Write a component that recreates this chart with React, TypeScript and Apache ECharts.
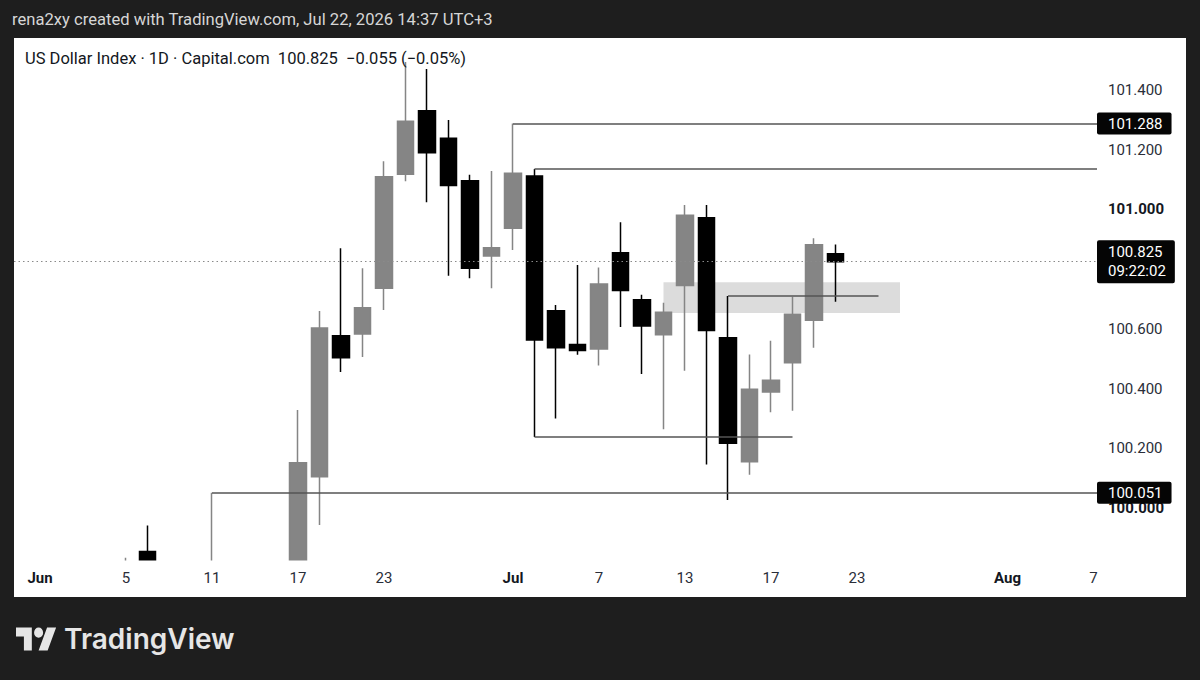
import React, { useEffect, useRef } from "react";
import * as echarts from "echarts";

// ---- data ----
const candleDates = [
  "2026-06-05", "2026-06-08", "2026-06-11", "2026-06-17", "2026-06-18", "2026-06-19",
  "2026-06-22", "2026-06-23", "2026-06-24", "2026-06-25", "2026-06-26", "2026-06-29",
  "2026-06-30", "2026-07-01", "2026-07-02", "2026-07-03", "2026-07-06", "2026-07-07",
  "2026-07-08", "2026-07-09", "2026-07-10", "2026-07-13", "2026-07-14", "2026-07-15",
  "2026-07-16", "2026-07-17", "2026-07-20", "2026-07-21", "2026-07-22",
];
const opens = [
  99.74, 99.854, 99.76, 99.73, 100.105, 100.577,
  100.583, 100.736, 101.118, 101.331, 101.239, 101.096,
  100.844, 100.937, 101.112, 100.661, 100.548, 100.533,
  100.855, 100.698, 100.58, 100.745, 100.972, 100.57,
  100.155, 100.389, 100.487, 100.629, 100.852,
];
const closes = [
  99.8, 99.77, 99.81, 100.152, 100.603, 100.503,
  100.671, 101.11, 101.296, 101.19, 101.08, 100.803,
  100.872, 101.121, 100.563, 100.537, 100.528, 100.75,
  100.729, 100.61, 100.656, 100.981, 100.595, 100.217,
  100.398, 100.428, 100.649, 100.882, 100.825,
];
const lows = [
  99.72, 99.73, 99.72, 99.71, 99.943, 100.456,
  100.506, 100.663, 101.095, 101.024, 100.778, 100.77,
  100.736, 100.864, 100.238, 100.3, 100.513, 100.477,
  100.606, 100.449, 100.264, 100.46, 100.146, 100.027,
  100.111, 100.321, 100.326, 100.537, 100.691,
];
const highs = [
  99.833, 99.941, 100.051, 100.328, 100.66, 100.87,
  100.803, 101.162, 101.494, 101.471, 101.3, 101.116,
  101.129, 101.288, 101.136, 100.68, 100.814, 100.806,
  100.957, 100.714, 100.688, 101.015, 101.015, 100.71,
  100.514, 100.56, 100.708, 100.904, 100.883,
];

// drawn horizontal rays / segments (end null = to price scale)
const rayStarts = ["2026-07-01", "2026-07-02", "2026-07-02", "2026-07-15", "2026-06-11"];
const rayEnds = [null, null, "2026-07-20", "2026-07-24", null];
const rayPrices = [101.288, 101.136, 100.238, 100.71, 100.051];
const rayLabels = ["101.288", "", "", "", "100.051"];

const lastPrice = 100.825;
const lastPriceLabel = "100.825\n09:22:02";

const zoneStart = "2026-07-10";
const zoneEnd = "2026-07-27";
const zoneTop = 100.756;
const zoneBottom = 100.653;

const xTickDates = [
  "2026-06-01", "2026-06-05", "2026-06-11", "2026-06-17", "2026-06-23", "2026-07-01",
  "2026-07-07", "2026-07-13", "2026-07-17", "2026-07-23", "2026-08-03", "2026-08-07",
];
const xTickLabels = ["Jun", "5", "11", "17", "23", "Jul", "7", "13", "17", "23", "Aug", "7"];
const yTickValues = [100.0, 100.2, 100.4, 100.6, 101.0, 101.2, 101.4];

const headerText = "rena2xy created with TradingView.com, Jul 22, 2026 14:37 UTC+3";
const legendText = "US Dollar Index · 1D · Capital.com  100.825  \u22120.055 (\u22120.05%)";

// trading-day calendar (Mon–Fri) from Jun 1 2026
function buildTradingDays(): string[] {
  const out: string[] = [];
  const d = new Date(Date.UTC(2026, 5, 1));
  const end = new Date(Date.UTC(2026, 7, 14));
  while (d <= end) {
    const wd = d.getUTCDay();
    if (wd !== 0 && wd !== 6) out.push(d.toISOString().slice(0, 10));
    d.setUTCDate(d.getUTCDate() + 1);
  }
  return out;
}
const tradingDays = buildTradingDays();
const idx = (s: string) => tradingDays.indexOf(s);

const X_MIN = -1.2093;
const X_MAX = 49.163;
const Y_MIN = 99.8258;
const Y_MAX = 101.5745;

const FONT = "Roboto, 'Noto Sans', sans-serif";

echarts.graphic.registerShape(
  "tvlogo",
  echarts.graphic.extendPath(
    "M14 22H7V11H0V4h14v18zM28 22h-8l7.5-18h8L28 22zM24 8a4 4 0 1 1-8 0a4 4 0 1 1 8 0z",
    {}
  )
);

export default function App() {
  const ref = useRef<HTMLDivElement>(null);
  useEffect(() => {
    if (!ref.current) return;
    const chart = echarts.init(ref.current, undefined, { renderer: "svg" });

    const candleData = candleDates.map((d, i) => [idx(d), opens[i], closes[i], lows[i], highs[i]]);
    const tickIdx = xTickDates.map(idx);

    const priceBox = {
      show: true,
      position: "end",
      distance: 0,
      color: "#ffffff",
      backgroundColor: "#050505",
      fontFamily: FONT,
      fontSize: 15,
      lineHeight: 19,
      padding: [2, 9, 1, 11],
      borderRadius: 2,
    };

    const markLines: any[] = rayStarts.map((s, i) => {
      const x1 = rayEnds[i] ? idx(rayEnds[i] as string) : X_MAX;
      return [
        {
          coord: [idx(s), rayPrices[i]],
          lineStyle: { color: "#555555", width: 1.5, type: "solid" },
          label: rayLabels[i] ? { ...priceBox, formatter: rayLabels[i] } : { show: false },
        },
        { coord: [x1, rayPrices[i]] },
      ];
    });
    markLines.push([
      {
        coord: [X_MIN, lastPrice],
        lineStyle: { color: "#8a8a8a", width: 1, type: [1.5, 3] },
        label: { ...priceBox, formatter: lastPriceLabel, padding: [3, 9, 2, 11] },
      },
      { coord: [X_MAX, lastPrice] },
    ]);

    chart.setOption({
      animation: false,
      backgroundColor: "transparent",
      grid: { left: 14, top: 38, width: 1083, height: 522, containLabel: false },
      xAxis: {
        type: "value",
        z: 20,
        min: X_MIN,
        max: X_MAX,
        axisLine: { show: false },
        axisTick: { show: false },
        splitLine: { show: false },
        axisLabel: {
          customValues: tickIdx,
          margin: 10,
          fontFamily: FONT,
          fontSize: 15,
          color: "#2a2e39",
          formatter: (v: number) => {
            const k = tickIdx.indexOf(Math.round(v));
            const t = k >= 0 ? xTickLabels[k] : "";
            return /^[A-Z]/.test(t) ? `{b|${t}}` : t;
          },
          rich: { b: { fontWeight: "bold", fontFamily: FONT, fontSize: 15, color: "#131722" } },
        },
      },
      yAxis: {
        type: "value",
        position: "right",
        min: Y_MIN,
        max: Y_MAX,
        scale: true,
        axisLine: { show: false },
        axisTick: { show: false },
        splitLine: { show: false },
        axisLabel: {
          customValues: yTickValues,
          margin: 11,
          fontFamily: FONT,
          fontSize: 15,
          color: "#2a2e39",
          formatter: (v: number) => {
            const t = v.toFixed(3);
            return Math.abs(v - Math.round(v)) < 1e-6 ? `{b|${t}}` : t;
          },
          rich: { b: { fontWeight: "bold", fontFamily: FONT, fontSize: 15, color: "#131722" } },
        },
      },
      series: [
        {
          type: "line",
          z: 1,
          data: [],
          silent: true,
          markArea: {
            silent: true,
            itemStyle: { color: "#dcdcdc" },
            data: [[{ coord: [idx(zoneStart), zoneTop] }, { coord: [idx(zoneEnd), zoneBottom] }]],
          },
        },
        {
          type: "candlestick",
          z: 3,
          clip: true,
          barWidth: 17,
          data: candleData,
          encode: { x: 0, y: [1, 2, 3, 4] },
          itemStyle: {
            color: "#858585",
            color0: "#000000",
            borderColor: "#858585",
            borderColor0: "#000000",
            borderWidth: 1.5,
          },
          markLine: {
            silent: true,
            symbol: ["none", "none"],
            animation: false,
            data: markLines,
          },
        },
      ],
      graphic: [
        {
          // time-scale strip: hides the parts of candles that fall below the visible price range
          type: "rect",
          z: 10,
          silent: true,
          shape: { x: 14, y: 560.5, width: 1083, height: 36.5 },
          style: { fill: "#ffffff" },
        },
        {
          type: "text",
          x: 12,
          y: 19,
          style: {
            text: headerText,
            fill: "#d6d6d6",
            fontFamily: FONT,
            fontSize: 16.6,
            verticalAlign: "middle",
          },
        },
        {
          type: "text",
          x: 25,
          y: 58,
          z: 10,
          style: {
            text: legendText,
            fill: "#131722",
            fontFamily: FONT,
            fontSize: 16.5,
            verticalAlign: "middle",
          },
        },
        {
          type: "tvlogo",
          x: 16,
          y: 622.5,
          scaleX: 1.13,
          scaleY: 1.27,
          style: { fill: "#e6e6e6" },
        },
        {
          type: "text",
          x: 64,
          y: 639,
          style: {
            text: "TradingView",
            fill: "#e6e6e6",
            fontFamily: "Inter, Lato, sans-serif",
            fontWeight: 600,
            fontSize: 28,
            verticalAlign: "middle",
          },
        },
      ],
    });
    return () => chart.dispose();
  }, []);

  return (
    <div style={{ position: "fixed", left: 0, top: 0, width: 1200, height: 680, background: "#1e1e1e" }}>
      <div style={{ position: "absolute", left: 14, top: 38, width: 1172, height: 559, background: "#ffffff" }} />
      <div ref={ref} style={{ position: "absolute", left: 0, top: 0, width: 1200, height: 680 }} />
    </div>
  );
}
